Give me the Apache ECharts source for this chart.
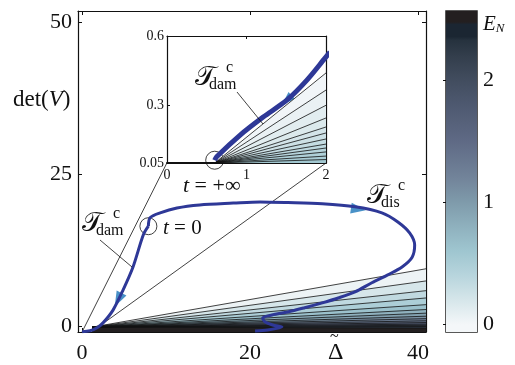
<!DOCTYPE html>
<html>
<head>
<meta charset="utf-8">
<script src="https://cdn.jsdelivr.net/npm/echarts@6/dist/echarts.min.js"></script>
<style>
  html, body { margin: 0; padding: 0; background: #fff; }
  #chart { width: 515px; height: 365px; }
</style>
</head>
<body>
<div id="chart"></div>
<script>
// ---- data ----
// main panel: trajectory in (Delta~, det V)
const dampBranch = [[7.9, 16.4], [7.3, 15.0], [6.07, 9.7], [4.88, 5.9], [3.69, 2.6], [2.5, 0.5], [1.79, -0.3], [0.95, -0.8], [0, -0.95]];
const dissBranch = [[7.9, 16.4], [8.1, 17.8], [9.3, 18.6], [11.3, 19.4], [14.0, 19.9], [18.0, 20.2], [21.2, 20.4], [24.5, 20.3],
  [28.6, 20.1], [32.5, 19.6], [35.7, 18.6], [37.6, 17.1], [39.0, 15.3], [39.6, 13.3], [39.3, 11.3], [38.1, 9.7], [36.4, 8.4],
  [34.5, 7.1], [32.5, 5.6], [30.5, 4.6], [28.6, 3.8], [26.5, 3.0], [24.5, 2.3], [22.6, 1.8], [21.5, 1.3], [21.8, 0.66],
  [22.7, 0.16], [23.8, -0.16], [22.1, -0.66], [20.6, -0.82]];
const startPoint = [7.9, 16.4];          // t = 0
// contour lines of E_N in the main panel (level, det V at the right edge)
const mainApex = [1.2, -0.2];
const mainLevels = [0.05, 0.2, 0.35, 0.5, 0.65, 0.8, 0.95, 1.1, 1.25, 1.4, 1.6, 1.8, 2.0, 2.2, 2.5];
const mainEnds = [9.4, 7.4, 5.8, 4.6, 3.5, 2.7, 2.1, 1.6, 1.2, 0.85, 0.55, 0.3, 0.1, -0.1, -0.35];
// zoom connectors (main coords)
const connectorA = [[0, -1], [10.1, 26.8]];
const connectorB = [[1.8, -0.3], [29.05, 26.8]];

// inset: zoom near the origin
const insetCurve = [[0.6, 0.062], [0.625, 0.077], [0.92, 0.171], [1.21, 0.249], [1.51, 0.323], [1.76, 0.409], [1.99, 0.505], [2.05, 0.53]];
const insetEnd = [0.6, 0.062];           // t = +inf
const insetApex = [0.6, 0.05];
const insetLevels = [0.02, 0.07, 0.12, 0.17, 0.22, 0.27, 0.32, 0.37, 0.42, 0.47, 0.52, 0.58];
const insetEnds = [0.44, 0.366, 0.30, 0.245, 0.206, 0.18, 0.154, 0.132, 0.115, 0.098, 0.08, 0.065];

// arrow heads: [x, y, rotation]
const mainArrows = [[4.3, 4.3, 153], [32.9, 19.2, -98]];
const insetArrows = [[1.51, 0.323, 132]];

// tick labels
const mainXTicks = [0, 20, 40];
const mainYTicks = [0, 25, 50];
const insetXTicks = [0, 1, 2];
const insetYTicks = [0.05, 0.3, 0.6];
const cbarTicks = [0, 1, 2];
const cbarRange = [-0.06, 2.57];

// ---- colour map (style) ----
const cmap = [[0, '#f4f7f9'], [0.2, '#d6e6ea'], [0.4, '#b8d5dd'], [0.6, '#9fc6d0'], [0.8, '#8fb1be'], [1.0, '#7f9bab'],
  [1.2, '#72849a'], [1.5, '#5f6a85'], [1.8, '#4e5970'], [2.0, '#424d5f'], [2.2, '#333e4c'], [2.33, '#26323e'],
  [2.36, '#1b2632'], [2.46, '#1b2632'], [2.48, '#231f20'], [2.6, '#231f20']];

function hex2rgb(h) { return [1, 3, 5].map(i => parseInt(h.substr(i, 2), 16)); }
function colorAt(v) {
  if (v <= cmap[0][0]) return cmap[0][1];
  for (let i = 1; i < cmap.length; i++) {
    if (v <= cmap[i][0]) {
      const t = (v - cmap[i - 1][0]) / (cmap[i][0] - cmap[i - 1][0]);
      const a = hex2rgb(cmap[i - 1][1]), b = hex2rgb(cmap[i][1]);
      return 'rgb(' + a.map((c, k) => Math.round(c + (b[k] - c) * t)).join(',') + ')';
    }
  }
  return cmap[cmap.length - 1][1];
}

const SERIF = "'Liberation Serif', 'DejaVu Serif', serif";
const CURVE = '#2e3897';
const ARROW = '#1b76b9';

const mainX = { min: -0.48, max: 40.95 };
const mainY = { min: -1, max: 51.8 };
const insX = { min: 0, max: 2 };
const insY = { min: 0.05, max: 0.6 };

function axisBase(extra) {
  return Object.assign({
    type: 'value',
    axisLine: { show: true, onZero: false, lineStyle: { color: '#111', width: 1.2 } },
    splitLine: { show: false },
    axisLabel: { show: false },
    axisTick: { show: false }
  }, extra);
}
function ticks(vals, len) {
  return { show: true, inside: true, length: len, customValues: vals, lineStyle: { color: '#111', width: 1 } };
}
function labels(vals, size, margin) {
  return { show: true, customValues: vals, fontFamily: SERIF, fontSize: size, color: '#111', margin: margin };
}

const series = [];
// main contour fills, lightest first
mainLevels.forEach((lv, i) => {
  series.push({
    type: 'line', xAxisIndex: 0, yAxisIndex: 0, silent: true, symbol: 'none',
    data: [mainApex, [mainX.max, mainEnds[i]]],
    lineStyle: { color: '#111', width: 0.8 },
    areaStyle: { origin: 'start', color: colorAt(lv), opacity: 1 }
  });
});
insetLevels.forEach((lv, i) => {
  series.push({
    type: 'line', xAxisIndex: 2, yAxisIndex: 2, silent: true, symbol: 'none',
    data: [insetApex, [insX.max, insetEnds[i]]],
    lineStyle: { color: '#111', width: 0.8 },
    areaStyle: { origin: 'start', color: colorAt(lv), opacity: 1 }
  });
});
[connectorA, connectorB].forEach(c => series.push({
  type: 'line', xAxisIndex: 0, yAxisIndex: 0, silent: true, symbol: 'none', clip: false,
  data: c, lineStyle: { color: '#111', width: 0.8 }
}));
[dampBranch, dissBranch].forEach(b => series.push({
  type: 'line', xAxisIndex: 0, yAxisIndex: 0, silent: true, symbol: 'none', smooth: 0.3,
  data: b, lineStyle: { color: CURVE, width: 3 }
}));
series.push({
  type: 'line', xAxisIndex: 2, yAxisIndex: 2, silent: true, symbol: 'none', smooth: 0.3,
  data: insetCurve, lineStyle: { color: CURVE, width: 5 }
});
series.push({
  type: 'scatter', xAxisIndex: 0, yAxisIndex: 0, silent: true, symbol: 'triangle', symbolSize: [11, 15],
  itemStyle: { color: ARROW },
  data: mainArrows.map(a => ({ value: [a[0], a[1]], symbolRotate: a[2] }))
});
series.push({
  type: 'scatter', xAxisIndex: 2, yAxisIndex: 2, silent: true, symbol: 'triangle', symbolSize: [10, 13],
  itemStyle: { color: ARROW },
  data: insetArrows.map(a => ({ value: [a[0], a[1]], symbolRotate: a[2] }))
});
series.push({
  type: 'scatter', xAxisIndex: 0, yAxisIndex: 0, silent: true, symbol: 'circle', symbolSize: 17,
  itemStyle: { color: 'none', borderColor: '#111', borderWidth: 1 }, data: [startPoint]
});
series.push({
  type: 'scatter', xAxisIndex: 2, yAxisIndex: 2, silent: true, symbol: 'circle', symbolSize: 18,
  itemStyle: { color: 'none', borderColor: '#111', borderWidth: 1 }, data: [insetEnd]
});
// colour bar
series.push({
  type: 'custom', xAxisIndex: 4, yAxisIndex: 4, silent: true, data: [0],
  renderItem: function (params, api) {
    const p0 = api.coord([0, cbarRange[1]]);
    const p1 = api.coord([1, cbarRange[0]]);
    const span = cbarRange[1] - cbarRange[0];
    const stops = cmap.map(s => ({ offset: Math.min(1, (s[0] - cbarRange[0]) / span), color: s[1] }));
    return {
      type: 'rect',
      shape: { x: p0[0], y: p0[1], width: p1[0] - p0[0], height: p1[1] - p0[1] },
      style: { fill: new echarts.graphic.LinearGradient(0, 1, 0, 0, stops) }
    };
  }
});

function sub(x, y, t, size, italic) {
  return { type: 'text', x: x, y: y, z: 100,
    style: { text: t, fontFamily: SERIF, fontSize: size, fontStyle: italic ? 'italic' : 'normal', fill: '#111', textVerticalAlign: 'middle' } };
}
function tauLabel(x, y, supTxt, subTxt) {
  return [
    sub(x, y, '\u{1D4AF}', 27, false),
    sub(x + 31, y - 10, supTxt, 16, false),
    sub(x + 14, y + 7, subTxt, 16, false)
  ];
}

const graphic = [].concat(
  [{ type: 'text', x: 13, y: 100, z: 100, style: { text: '{n|det(}{i|V}{n|)}', textVerticalAlign: 'middle',
      rich: { n: { fontFamily: SERIF, fontSize: 23, fill: '#111' }, i: { fontFamily: SERIF, fontSize: 23, fontStyle: 'italic', fill: '#111' } } } },
   sub(328, 353, '\u0394', 24, false),
   sub(330, 337, '~', 16, false),
   { type: 'text', x: 483, y: 24, z: 100, style: { text: '{e|E}{n|N}', textVerticalAlign: 'middle',
      rich: { e: { fontFamily: SERIF, fontSize: 21, fontStyle: 'italic', fill: '#111' },
              n: { fontFamily: SERIF, fontSize: 13, fontStyle: 'italic', fill: '#111', padding: [10, 0, 0, 0] } } } },
   { type: 'text', x: 163, y: 228, z: 100, style: { text: '{i|t} = 0', fontFamily: SERIF, fontSize: 21, fill: '#111', textVerticalAlign: 'middle',
      rich: { i: { fontFamily: SERIF, fontSize: 21, fontStyle: 'italic' } } } },
   { type: 'text', x: 183, y: 186, z: 100, style: { text: '{i|t} = +\u221E', fontFamily: SERIF, fontSize: 22, fill: '#111', textVerticalAlign: 'middle',
      rich: { i: { fontFamily: SERIF, fontSize: 22, fontStyle: 'italic' } } } },
   { type: 'line', z: 100, shape: { x1: 237, y1: 92, x2: 263, y2: 124 }, style: { stroke: '#111', lineWidth: 0.8 } },
   { type: 'line', z: 100, shape: { x1: 100, y1: 240, x2: 132, y2: 267 }, style: { stroke: '#111', lineWidth: 0.8 } }
  ],
  tauLabel(195, 78, 'c', 'dam'),
  tauLabel(82, 224, 'c', 'dam'),
  tauLabel(367, 196, 'c', 'dis')
);

const option = {
  animation: false,
  backgroundColor: '#fff',
  grid: [
    { left: 78, top: 11, width: 348, height: 321 },
    { left: 167, top: 36, width: 159, height: 127 },
    { left: 446, top: 11, width: 31, height: 321, show: true, borderColor: '#222', borderWidth: 1.5 }
  ],
  xAxis: [
    axisBase({ gridIndex: 0, position: 'bottom', min: mainX.min, max: mainX.max, axisTick: ticks(mainXTicks, 4), axisLabel: labels(mainXTicks, 22, 10) }),
    axisBase({ gridIndex: 0, position: 'top', min: mainX.min, max: mainX.max, axisTick: ticks(mainXTicks, 4) }),
    axisBase({ gridIndex: 1, position: 'bottom', min: insX.min, max: insX.max, axisTick: ticks(insetXTicks, 3), axisLabel: labels(insetXTicks, 14, 5),
      axisLine: { show: true, onZero: false, lineStyle: { color: '#111', width: 2 } } }),
    axisBase({ gridIndex: 1, position: 'top', min: insX.min, max: insX.max, axisTick: ticks(insetXTicks, 3) }),
    axisBase({ gridIndex: 2, min: 0, max: 1, axisLine: { show: false } })
  ],
  yAxis: [
    axisBase({ gridIndex: 0, position: 'left', min: mainY.min, max: mainY.max, axisTick: ticks(mainYTicks, 4), axisLabel: labels(mainYTicks, 22, 6) }),
    axisBase({ gridIndex: 0, position: 'right', min: mainY.min, max: mainY.max, axisTick: ticks(mainYTicks, 4) }),
    axisBase({ gridIndex: 1, position: 'left', min: insY.min, max: insY.max, axisTick: ticks(insetYTicks, 3), axisLabel: labels(insetYTicks, 14, 3) }),
    axisBase({ gridIndex: 1, position: 'right', min: insY.min, max: insY.max, axisTick: ticks(insetYTicks, 3) }),
    axisBase({ gridIndex: 2, position: 'right', min: cbarRange[0], max: cbarRange[1], axisLine: { show: false },
      axisTick: ticks(cbarTicks, 3), axisLabel: labels(cbarTicks, 22, 6) }),
    axisBase({ gridIndex: 2, position: 'left', min: cbarRange[0], max: cbarRange[1], axisLine: { show: false },
      axisTick: ticks(cbarTicks, 3) })
  ],
  series: series,
  graphic: graphic
};

const chart = echarts.init(document.getElementById('chart'));
chart.setOption(option);
</script>
</body>
</html>
